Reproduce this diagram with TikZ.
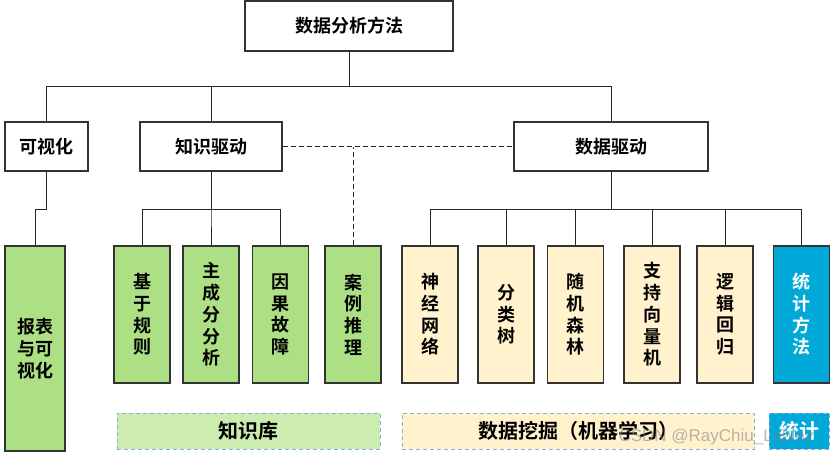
\documentclass[tikz,border=0pt]{standalone}
\usepackage{fontspec}
\usepackage{tikz}
\newfontfamily\cjk{Noto Sans CJK SC}[BoldFont={Noto Sans CJK SC Bold}]
\newfontfamily\wmfont{Liberation Sans}
\definecolor{boxgreen}{HTML}{ADDF85}
\definecolor{palegreen}{HTML}{CDEDB0}
\definecolor{paleyellow}{HTML}{FFF2CC}
\definecolor{statblue}{HTML}{00A9D8}
\definecolor{dashblue}{HTML}{8FAADC}
\newcommand{\zh}{\cjk\bfseries\fontsize{18}{21.7}\selectfont}

\begin{document}
\begin{tikzpicture}[x=1pt,y=-1pt,
  every node/.style={inner sep=0pt, align=center, font=\zh},
  head/.style={draw=black!80, line width=1.1pt, fill=white},
  leaf/.style={draw=black!80, line width=1.1pt, minimum width=56pt, minimum height=137pt},
  green/.style={leaf, fill=boxgreen},
  yellow/.style={leaf, fill=paleyellow},
  blue/.style={leaf, fill=statblue, text=white},
  group/.style={draw=dashblue, line width=1pt, dash pattern=on 4pt off 3pt,
    minimum height=36pt, font=\cjk\bfseries\fontsize{20}{24}\selectfont},
  link/.style={draw=black!85, line width=1pt},
  soft/.style={link, dash pattern=on 5pt off 3pt}]
\useasboundingbox (0,0) rectangle (836,463);
% top of the tree
\node[head, minimum width=208pt, minimum height=50pt] (top) at (349,26) {数据分析方法};
\node[head, minimum width=83pt, minimum height=49pt] (vis) at (46.5,146.5) {可视化};
\node[head, minimum width=142pt, minimum height=49pt] (know) at (211,146.5) {知识驱动};
\node[head, minimum width=194pt, minimum height=49pt] (data) at (611,146.5) {数据驱动};
% leaves
\node[green, minimum height=205pt, minimum width=60pt] (rep) at (35,348.5) {报表\\与可\\视化};
\node[green] (rule) at (142,314.5) {基\\于\\规\\则};
\node[green] (pca) at (211,314.5) {主\\成\\分\\分\\析};
\node[green] (cause) at (280.5,314.5) {因\\果\\故\\障};
\node[green] (case) at (353,314.5) {案\\例\\推\\理};
\node[yellow] (nn) at (430,314.5) {神\\经\\网\\络};
\node[yellow] (tree) at (506,314.5) {分\\类\\树};
\node[yellow] (rf) at (575.5,314.5) {随\\机\\森\\林};
\node[yellow] (svm) at (652,314.5) {支\\持\\向\\量\\机};
\node[yellow] (lr) at (725,314.5) {逻\\辑\\回\\归};
\node[blue] (stat) at (801.5,314.5) {统\\计\\方\\法};
% groups
\node[group, fill=palegreen, minimum width=263pt] (kb) at (248.5,431) {知识库};
\node[group, fill=paleyellow, minimum width=352pt] (dm) at (578,431) {数据挖掘（机器学习）};
\node[group, fill=statblue, text=white, minimum width=60pt] (st) at (799,431) {统计};
% connectors
\draw[link] (top.south) -- ++(0,35) -| (vis.north);
\draw[link] (top.south) -- ++(0,35) -| (know.north);
\draw[link] (top.south) -- ++(0,35) -| (data.north);
\draw[link] (vis.south) -- ++(0,38) -| (rep.north);
\foreach \n in {rule,pca,cause}
  \draw[link] (know.south) -- ++(0,38) -| (\n.north);
\foreach \n in {nn,tree,rf,svm,lr,stat}
  \draw[link] (data.south) -- ++(0,38) -| (\n.north);
\draw[soft] (know.east) -- (data.west);
\draw[soft] (case.north) -- (case.north |- know.east);
% watermark
\node[font=\wmfont\fontsize{17}{17}\selectfont, text=gray, opacity=0.55] (wm) at (716,437) {CSDN @RayChiu\_Labloy};
\end{tikzpicture}
\end{document}
